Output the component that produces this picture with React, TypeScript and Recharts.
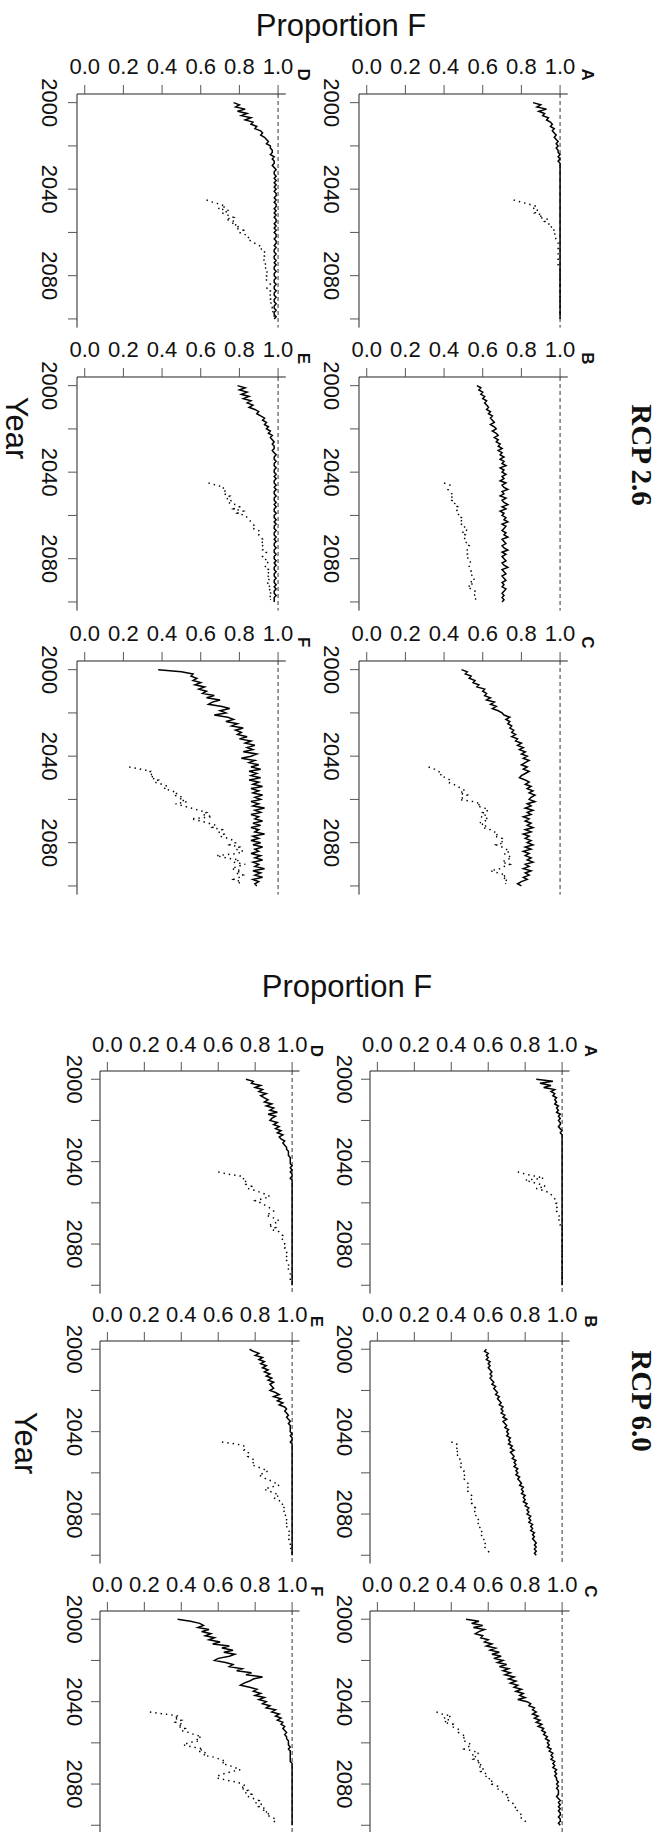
import React from "react";
import { LineChart, Line, XAxis, YAxis, ReferenceLine } from "recharts";

// ---- data: proportion F by year (solid = main run, dotted = late-start run) ----
const YEARS = Array.from({ length: 101 }, (_, i) => 2000 + i);
const ALT_START = 2045;
const PROP_TICKS = [0, 0.2, 0.4, 0.6, 0.8, 1.0];
const YEAR_TICKS = [2000, 2020, 2040, 2060, 2080, 2100];

// RCP 2.6
const rcp26A = [
  0.86, 0.9, 0.88, 0.93, 0.89, 0.92, 0.91, 0.94, 0.93, 0.95,
  0.96, 0.95, 0.97, 0.96, 0.97, 0.98, 0.97, 0.98, 0.99, 0.98,
  0.99, 0.98, 0.99, 0.99, 1, 0.99, 1, 0.99, 1, 1,
  1, 1, 1, 1, 1, 1, 1, 1, 1, 1,
  1, 1, 1, 1, 1, 1, 1, 1, 1, 1,
  1, 1, 1, 1, 1, 1, 1, 1, 1, 1,
  1, 1, 1, 1, 1, 1, 1, 1, 1, 1,
  1, 1, 1, 1, 1, 1, 1, 1, 1, 1,
  1, 1, 1, 1, 1, 1, 1, 1, 1, 1,
  1, 1, 1, 1, 1, 1, 1, 1, 1, 1,
  1,
];
const rcp26Aalt = [
  0.76, 0.8, 0.84, 0.88, 0.86,
  0.89, 0.87, 0.91, 0.89, 0.94, 0.92, 0.94, 0.96, 0.95, 0.97,
  0.98, 0.97, 0.97, 0.98, 0.99, 0.99, 0.99, 0.99, 0.99, 0.99,
  0.99, 0.99, 0.99, 0.99, 0.99, 0.99, 1, 1, 1, 1,
  1, 1, 1, 1, 1, 1, 1, 1, 1, 1,
  1, 1, 1, 1, 1, 1, 1, 1, 1, 1,
];
const rcp26B = [
  0.57, 0.59, 0.58, 0.6, 0.59, 0.61, 0.6, 0.62, 0.61, 0.62,
  0.63, 0.62, 0.64, 0.63, 0.65, 0.64, 0.65, 0.66, 0.64, 0.66,
  0.67, 0.65, 0.67, 0.68, 0.66, 0.68, 0.67, 0.69, 0.68, 0.7,
  0.68, 0.7, 0.69, 0.71, 0.69, 0.71, 0.7, 0.72, 0.69, 0.71,
  0.7, 0.72, 0.7, 0.71, 0.69, 0.72, 0.7, 0.71, 0.73, 0.7,
  0.71, 0.69, 0.72, 0.7, 0.71, 0.73, 0.7, 0.72, 0.69, 0.71,
  0.7, 0.72, 0.71, 0.73, 0.7, 0.72, 0.71, 0.7, 0.72, 0.71,
  0.73, 0.7, 0.71, 0.72, 0.7, 0.71, 0.73, 0.7, 0.72, 0.7,
  0.71, 0.72, 0.7, 0.71, 0.73, 0.7, 0.71, 0.72, 0.7, 0.71,
  0.72, 0.7, 0.71, 0.7, 0.72, 0.71, 0.7, 0.71, 0.7, 0.71,
  0.7,
];
const rcp26Balt = [
  0.4, 0.43, 0.42, 0.42, 0.43,
  0.44, 0.43, 0.45, 0.44, 0.46, 0.45, 0.47, 0.46, 0.47, 0.48,
  0.47, 0.49, 0.48, 0.5, 0.49, 0.51, 0.5, 0.52, 0.49, 0.51,
  0.5, 0.51, 0.52, 0.51, 0.53, 0.52, 0.52, 0.53, 0.52, 0.53,
  0.52, 0.53, 0.54, 0.53, 0.53, 0.54, 0.54, 0.55, 0.54, 0.55,
  0.56, 0.53, 0.55, 0.52, 0.54, 0.56, 0.55, 0.56, 0.57, 0.56,
];
const rcp26C = [
  0.49, 0.52, 0.51, 0.54, 0.53, 0.56, 0.55, 0.58, 0.57, 0.61,
  0.6, 0.62, 0.61, 0.64, 0.62, 0.66, 0.64, 0.67, 0.65, 0.68,
  0.7, 0.71, 0.74, 0.72, 0.74, 0.73, 0.75, 0.74, 0.76, 0.75,
  0.77, 0.75, 0.78, 0.77, 0.8, 0.78, 0.81, 0.79, 0.82, 0.8,
  0.83, 0.81, 0.84, 0.82, 0.8, 0.83, 0.81, 0.84, 0.82, 0.8,
  0.79, 0.82, 0.84, 0.82, 0.85, 0.83, 0.86, 0.84, 0.87, 0.85,
  0.84, 0.87, 0.83, 0.85, 0.82, 0.86, 0.83, 0.85, 0.81, 0.84,
  0.82, 0.85, 0.83, 0.86, 0.82, 0.85, 0.81, 0.84, 0.82, 0.85,
  0.83, 0.86, 0.82, 0.85, 0.81, 0.84, 0.82, 0.85, 0.83, 0.86,
  0.82, 0.84, 0.81, 0.85, 0.82, 0.84, 0.81, 0.83, 0.8, 0.78,
  0.8,
];
const rcp26Calt = [
  0.32, 0.35, 0.37, 0.39, 0.38,
  0.41, 0.43, 0.42, 0.45, 0.47, 0.49, 0.51, 0.48, 0.52, 0.5,
  0.48, 0.55, 0.59, 0.57, 0.61, 0.63, 0.6, 0.62, 0.59, 0.63,
  0.61, 0.58, 0.62, 0.6, 0.64, 0.66, 0.68, 0.66, 0.7, 0.69,
  0.71, 0.67, 0.7, 0.72, 0.74, 0.71, 0.73, 0.75, 0.72, 0.7,
  0.74, 0.71, 0.69, 0.64, 0.68, 0.72, 0.7, 0.73, 0.71, 0.72,
];
const rcp26D = [
  0.77, 0.8, 0.78, 0.83, 0.79, 0.84, 0.81, 0.86, 0.83, 0.87,
  0.86, 0.89, 0.88, 0.91, 0.92, 0.91, 0.93, 0.94, 0.95, 0.94,
  0.96, 0.96, 0.97, 0.97, 0.96, 0.98, 0.97, 0.98, 0.98, 0.97,
  0.98, 0.99, 0.98, 0.98, 0.99, 0.98, 0.99, 0.98, 0.99, 0.98,
  0.99, 0.98, 0.99, 0.99, 0.98, 0.99, 0.98, 0.99, 0.99, 0.98,
  0.99, 0.98, 0.99, 0.98, 0.99, 0.99, 0.98, 0.99, 0.98, 0.99,
  0.98, 0.99, 0.99, 0.98, 0.99, 0.99, 0.98, 0.99, 0.98, 0.98,
  0.99, 0.98, 0.98, 0.99, 0.98, 0.99, 0.98, 0.98, 0.99, 0.98,
  0.98, 0.99, 0.98, 0.98, 0.99, 0.98, 0.98, 0.99, 0.98, 0.98,
  0.99, 0.98, 0.98, 0.99, 0.98, 0.98, 0.99, 0.98, 0.98, 0.99,
  0.98,
];
const rcp26Dalt = [
  0.63, 0.66, 0.7, 0.73, 0.69,
  0.75, 0.71, 0.74, 0.77, 0.73, 0.78, 0.76, 0.8, 0.78, 0.82,
  0.8, 0.83, 0.85, 0.84, 0.86, 0.88, 0.9, 0.92, 0.91, 0.93,
  0.92, 0.93, 0.92, 0.93, 0.94, 0.93, 0.94, 0.93, 0.94, 0.95,
  0.94, 0.95, 0.94, 0.95, 0.96, 0.95, 0.94, 0.96, 0.95, 0.96,
  0.97, 0.96, 0.97, 0.96, 0.97, 0.97, 0.98, 0.97, 0.98, 0.98,
];
const rcp26E = [
  0.79, 0.83, 0.8, 0.84, 0.81, 0.85, 0.82, 0.86, 0.84, 0.87,
  0.85, 0.88, 0.9, 0.89, 0.91, 0.93, 0.92, 0.94, 0.93, 0.95,
  0.94, 0.96, 0.95, 0.97, 0.96, 0.97, 0.98, 0.97, 0.98, 0.98,
  0.97, 0.98, 0.99, 0.98, 0.98, 0.99, 0.98, 0.98, 0.99, 0.98,
  0.98, 0.99, 0.98, 0.99, 0.98, 0.98, 0.99, 0.98, 0.99, 0.98,
  0.98, 0.99, 0.98, 0.98, 0.99, 0.98, 0.99, 0.98, 0.98, 0.99,
  0.98, 0.98, 0.99, 0.98, 0.99, 0.98, 0.98, 0.99, 0.98, 0.98,
  0.99, 0.98, 0.99, 0.98, 0.98, 0.99, 0.98, 0.98, 0.99, 0.98,
  0.98, 0.99, 0.98, 0.99, 0.98, 0.98, 0.99, 0.98, 0.98, 0.99,
  0.98, 0.98, 0.99, 0.98, 0.99, 0.98, 0.98, 0.99, 0.98, 0.98,
  0.98,
];
const rcp26Ealt = [
  0.64, 0.68, 0.72, 0.71, 0.73,
  0.72, 0.75, 0.73, 0.76, 0.74, 0.78, 0.8, 0.77, 0.82, 0.79,
  0.83, 0.84, 0.85, 0.86, 0.87, 0.88, 0.87, 0.9, 0.91, 0.9,
  0.91, 0.92, 0.91, 0.93, 0.92, 0.93, 0.92, 0.94, 0.93, 0.92,
  0.94, 0.93, 0.95, 0.94, 0.93, 0.95, 0.94, 0.96, 0.95, 0.94,
  0.96, 0.95, 0.94, 0.96, 0.95, 0.97, 0.96, 0.95, 0.97, 0.96,
];
const rcp26F = [
  0.38, 0.5, 0.56, 0.55, 0.58, 0.56, 0.6, 0.57, 0.62, 0.59,
  0.63, 0.61, 0.67, 0.63, 0.7, 0.66, 0.64, 0.71, 0.75, 0.7,
  0.73, 0.67, 0.74, 0.77, 0.73, 0.79, 0.76, 0.82, 0.78, 0.81,
  0.79, 0.84, 0.8, 0.86, 0.83, 0.88, 0.84, 0.87, 0.82, 0.89,
  0.86, 0.81, 0.88, 0.85, 0.9, 0.86, 0.91, 0.85, 0.89, 0.86,
  0.91, 0.85, 0.9, 0.87, 0.92, 0.86, 0.9, 0.87, 0.92, 0.88,
  0.91, 0.86, 0.9, 0.87, 0.93, 0.88, 0.91, 0.86, 0.9, 0.88,
  0.92, 0.87, 0.91, 0.86, 0.9, 0.88, 0.93, 0.87, 0.9, 0.86,
  0.91, 0.87, 0.92, 0.88, 0.9, 0.86, 0.91, 0.88, 0.92, 0.87,
  0.9, 0.88, 0.93, 0.87, 0.91, 0.88, 0.92, 0.87, 0.9, 0.88,
  0.89,
];
const rcp26Falt = [
  0.23, 0.29, 0.34, 0.33, 0.36,
  0.34, 0.38, 0.36, 0.4, 0.43, 0.41, 0.45, 0.48, 0.46, 0.51,
  0.49, 0.53, 0.47, 0.51, 0.55, 0.59, 0.63, 0.61, 0.66, 0.55,
  0.6, 0.64, 0.68, 0.66, 0.71, 0.69, 0.72, 0.7, 0.74, 0.77,
  0.78, 0.75, 0.8, 0.78, 0.82, 0.79, 0.68, 0.73, 0.8, 0.77,
  0.83, 0.79, 0.76, 0.81, 0.78, 0.82, 0.8, 0.77, 0.81, 0.79,
];

// RCP 6.0
const rcp60A = [
  0.86, 0.95, 0.88, 0.94, 0.9, 0.96, 0.94, 0.96, 0.95, 0.97,
  0.96, 0.97, 0.96, 0.98, 0.97, 0.98, 0.97, 0.99, 0.98, 0.99,
  0.98, 0.99, 0.99, 0.98, 0.99, 1, 0.99, 1, 1, 1,
  1, 1, 1, 1, 1, 1, 1, 1, 1, 1,
  1, 1, 1, 1, 1, 1, 1, 1, 1, 1,
  1, 1, 1, 1, 1, 1, 1, 1, 1, 1,
  1, 1, 1, 1, 1, 1, 1, 1, 1, 1,
  1, 1, 1, 1, 1, 1, 1, 1, 1, 1,
  1, 1, 1, 1, 1, 1, 1, 1, 1, 1,
  1, 1, 1, 1, 1, 1, 1, 1, 1, 1,
  1,
];
const rcp60Aalt = [
  0.76, 0.8, 0.85, 0.9, 0.8,
  0.84, 0.88, 0.91, 0.86, 0.9, 0.93, 0.94, 0.95, 0.96, 0.96,
  0.97, 0.96, 0.97, 0.98, 0.97, 0.98, 0.98, 0.99, 0.98, 0.99,
  0.99, 0.99, 1, 1, 1, 1, 1, 1, 1, 1,
  1, 1, 1, 1, 1, 1, 1, 1, 1, 1,
  1, 1, 1, 1, 1, 1, 1, 1, 1, 1,
];
const rcp60B = [
  0.59, 0.58, 0.6, 0.59, 0.6, 0.59, 0.61, 0.6, 0.61, 0.6,
  0.61, 0.62, 0.61, 0.62, 0.61, 0.62, 0.63, 0.62, 0.64, 0.63,
  0.64, 0.65, 0.64, 0.66, 0.65, 0.66, 0.67, 0.66, 0.68, 0.67,
  0.68, 0.67, 0.69, 0.68, 0.7, 0.68, 0.69, 0.7, 0.69, 0.71,
  0.7, 0.71, 0.7, 0.72, 0.71, 0.72, 0.71, 0.73, 0.72, 0.74,
  0.72, 0.73, 0.74, 0.73, 0.75, 0.74, 0.75, 0.74, 0.76, 0.75,
  0.76, 0.75, 0.77, 0.76, 0.77, 0.78, 0.77, 0.79, 0.78, 0.79,
  0.78, 0.8, 0.79, 0.8, 0.79, 0.81, 0.8, 0.82, 0.81, 0.82,
  0.81, 0.83, 0.82, 0.83, 0.82, 0.84, 0.83, 0.84, 0.83, 0.85,
  0.84, 0.85, 0.84, 0.85, 0.86, 0.85, 0.86, 0.85, 0.86, 0.85,
  0.86,
];
const rcp60Balt = [
  0.4, 0.43, 0.42, 0.43, 0.42,
  0.44, 0.43, 0.44, 0.45, 0.44, 0.45, 0.46, 0.45, 0.46, 0.47,
  0.46, 0.47, 0.48, 0.47, 0.48, 0.49, 0.48, 0.49, 0.5, 0.49,
  0.5, 0.51, 0.5, 0.51, 0.52, 0.51, 0.52, 0.53, 0.52, 0.53,
  0.54, 0.53, 0.54, 0.55, 0.54, 0.55, 0.56, 0.55, 0.56, 0.57,
  0.56, 0.57, 0.58, 0.57, 0.58, 0.59, 0.58, 0.59, 0.6, 0.61,
];
const rcp60C = [
  0.48, 0.55, 0.51, 0.57, 0.52, 0.58, 0.55, 0.53, 0.57, 0.56,
  0.6, 0.58, 0.62, 0.59, 0.64, 0.61, 0.66, 0.62, 0.67, 0.63,
  0.68, 0.65, 0.7, 0.66, 0.71, 0.68, 0.72, 0.69, 0.74, 0.71,
  0.75, 0.72, 0.76, 0.74, 0.78, 0.75, 0.79, 0.77, 0.8, 0.76,
  0.81, 0.83, 0.82, 0.85, 0.84, 0.86, 0.84, 0.87, 0.85, 0.88,
  0.86, 0.89, 0.87, 0.9, 0.89, 0.91, 0.9, 0.92, 0.91, 0.93,
  0.92, 0.93, 0.92, 0.94, 0.93, 0.95, 0.94, 0.95, 0.94, 0.96,
  0.95, 0.96, 0.95, 0.97, 0.96, 0.97, 0.96, 0.97, 0.97, 0.98,
  0.97, 0.98, 0.97, 0.98, 0.98, 0.98, 0.97, 0.98, 0.99, 0.98,
  0.99, 0.98, 0.99, 0.98, 0.99, 0.99, 0.98, 0.99, 0.99, 0.98,
  0.99,
];
const rcp60Calt = [
  0.32, 0.35, 0.4, 0.36, 0.39,
  0.36, 0.41, 0.4, 0.43, 0.45, 0.44, 0.46, 0.48, 0.46, 0.47,
  0.49, 0.51, 0.49, 0.47, 0.52, 0.55, 0.51, 0.54, 0.52, 0.56,
  0.54, 0.57, 0.55, 0.58, 0.56, 0.59, 0.58, 0.61, 0.6, 0.63,
  0.62, 0.65, 0.64, 0.67, 0.68, 0.7, 0.69, 0.72, 0.71, 0.73,
  0.74, 0.75, 0.74, 0.76, 0.77, 0.78, 0.77, 0.79, 0.8, 0.81,
];
const rcp60D = [
  0.75, 0.79, 0.78, 0.83, 0.8, 0.84, 0.82, 0.86, 0.83, 0.85,
  0.87, 0.85, 0.89, 0.86, 0.9, 0.88, 0.92, 0.87, 0.91, 0.89,
  0.88, 0.92, 0.9, 0.93, 0.91, 0.94, 0.92, 0.95, 0.93, 0.94,
  0.96, 0.95, 0.96, 0.97, 0.97, 0.98, 0.98, 0.98, 0.99, 0.99,
  0.99, 0.99, 1, 0.99, 1, 0.99, 1, 1, 0.99, 1,
  1, 1, 1, 1, 1, 1, 1, 1, 1, 1,
  1, 1, 1, 1, 1, 1, 1, 1, 1, 1,
  1, 1, 1, 1, 1, 1, 1, 1, 1, 1,
  1, 1, 1, 1, 1, 1, 1, 1, 1, 1,
  1, 1, 1, 1, 1, 1, 1, 1, 1, 1,
  1,
];
const rcp60Dalt = [
  0.6, 0.65, 0.72, 0.74, 0.73,
  0.76, 0.75, 0.78, 0.76, 0.8, 0.83, 0.86, 0.88, 0.84, 0.8,
  0.83, 0.85, 0.87, 0.89, 0.9, 0.88, 0.86, 0.89, 0.92, 0.93,
  0.9, 0.87, 0.91, 0.89, 0.93, 0.94, 0.95, 0.94, 0.95, 0.96,
  0.96, 0.97, 0.96, 0.97, 0.97, 0.98, 0.97, 0.98, 0.97, 0.98,
  0.98, 0.99, 0.98, 0.98, 0.99, 0.99, 0.99, 0.99, 0.99, 1,
];
const rcp60E = [
  0.77, 0.79, 0.82, 0.8, 0.84, 0.82, 0.85, 0.83, 0.86, 0.84,
  0.87, 0.85, 0.88, 0.86, 0.89, 0.87, 0.9, 0.88, 0.89, 0.9,
  0.88, 0.91, 0.93, 0.9, 0.94, 0.92, 0.95, 0.93, 0.96, 0.97,
  0.96, 0.97, 0.98, 0.97, 0.98, 0.99, 0.98, 0.99, 0.99, 0.99,
  0.99, 1, 0.99, 1, 1, 0.99, 1, 1, 1, 1,
  1, 1, 1, 1, 1, 1, 1, 1, 1, 1,
  1, 1, 1, 1, 1, 1, 1, 1, 1, 1,
  1, 1, 1, 1, 1, 1, 1, 1, 1, 1,
  1, 1, 1, 1, 1, 1, 1, 1, 1, 1,
  1, 1, 1, 1, 1, 1, 1, 1, 1, 1,
  1,
];
const rcp60Ealt = [
  0.62, 0.7, 0.74, 0.75, 0.74,
  0.76, 0.77, 0.76, 0.78, 0.8, 0.79, 0.78, 0.81, 0.84, 0.87,
  0.85, 0.82, 0.84, 0.86, 0.89, 0.91, 0.93, 0.88, 0.85, 0.88,
  0.91, 0.93, 0.9, 0.92, 0.94, 0.95, 0.94, 0.96, 0.95, 0.96,
  0.97, 0.96, 0.97, 0.97, 0.98, 0.96, 0.97, 0.98, 0.98, 0.99,
  0.98, 0.99, 0.98, 0.99, 0.99, 0.99, 1, 0.99, 1, 1,
];
const rcp60F = [
  0.38, 0.45, 0.5, 0.52, 0.49, 0.55, 0.51, 0.56, 0.53, 0.58,
  0.55, 0.61, 0.57, 0.66, 0.62, 0.68, 0.63, 0.69, 0.66, 0.6,
  0.58, 0.64, 0.68, 0.66, 0.73, 0.7, 0.78, 0.75, 0.84, 0.79,
  0.77, 0.74, 0.72, 0.77, 0.81, 0.79, 0.83, 0.8, 0.85, 0.82,
  0.86, 0.84, 0.88, 0.86, 0.91, 0.89, 0.93, 0.91, 0.94, 0.92,
  0.95, 0.94, 0.96, 0.95, 0.96, 0.97, 0.96, 0.97, 0.97, 0.98,
  0.98, 0.98, 0.99, 0.98, 0.99, 0.99, 0.99, 0.99, 0.99, 0.99,
  1, 1, 1, 1, 1, 1, 1, 1, 1, 1,
  1, 1, 1, 1, 1, 1, 1, 1, 1, 1,
  1, 1, 1, 1, 1, 1, 1, 1, 1, 1,
  1,
];
const rcp60Falt = [
  0.23, 0.31, 0.39, 0.36, 0.4,
  0.37, 0.41, 0.38, 0.42, 0.4, 0.44, 0.47, 0.51, 0.48, 0.5,
  0.44, 0.41, 0.46, 0.52, 0.49, 0.54, 0.52, 0.58, 0.61, 0.64,
  0.62, 0.66, 0.69, 0.72, 0.67, 0.63, 0.6, 0.59, 0.64, 0.7,
  0.73, 0.75, 0.72, 0.76, 0.74, 0.78, 0.76, 0.79, 0.82, 0.8,
  0.84, 0.82, 0.86, 0.84, 0.88, 0.86, 0.89, 0.91, 0.9, 0.92,
];

// ---- layout ----
const SANS = "'Liberation Sans', Arial, Helvetica, sans-serif";
const SERIF = "'Liberation Serif', 'Times New Roman', serif";
const YW = 50; // space left of plot for year axis
const XH = 40; // space above plot for proportion axis
const MR = 40;
const MB = 8;

type Half = {
  rows: number[];
  cols: number[];
  plotW: number;
  plotH: number;
  xLab: number; // baseline distance of prop labels above axis
  yLab: number; // baseline distance of year labels left of axis
  letterX: number[];
  letterDy: number;
};

const TOP: Half = {
  rows: [93.6, 377.4, 661.3],
  cols: [76.6, 359],
  plotW: 208.8,
  plotH: 233.6,
  xLab: 20,
  yLab: 35,
  letterX: [298, 582],
  letterDy: 19,
};
const BOTTOM: Half = {
  rows: [1071, 1341.3, 1611.3],
  cols: [99.9, 370.3],
  plotW: 199.5,
  plotH: 222.5,
  xLab: 19,
  yLab: 33,
  letterX: [311, 585],
  letterDy: 20,
};

function buildRows(main: number[], alt: number[]) {
  return YEARS.map((year, i) => {
    const j = year - ALT_START;
    return { year, main: main[i], alt: j >= 0 && j < alt.length ? alt[j] : null };
  });
}

function Panel({ half, row, col, main, alt }: { half: Half; row: number; col: number; main: number[]; alt: number[] }) {
  const plotX = half.cols[col];
  const plotY = half.rows[row];
  const data = buildRows(main, alt);
  return (
    <div style={{ position: "absolute", left: plotX - YW, top: plotY - XH }}>
      <LineChart
        width={YW + half.plotW + MR}
        height={XH + half.plotH + MB}
        data={data}
        layout="vertical"
        margin={{ top: 0, right: MR, bottom: MB, left: 0 }}
      >
        <XAxis
          type="number"
          orientation="top"
          domain={[-0.04, 1.04]}
          ticks={PROP_TICKS}
          allowDataOverflow
          interval={0}
          height={XH}
          tickSize={9}
          tickMargin={0}
          axisLine={{ stroke: "#222", strokeWidth: 1 }}
          tickLine={{ stroke: "#555" }}
          tick={(p: any) => (
            <text x={p.x} y={XH - half.xLab} textAnchor="middle" fontSize={22} fontFamily={SANS} fill="#111">
              {Number(p.payload.value).toFixed(1)}
            </text>
          )}
        />
        <YAxis
          type="number"
          dataKey="year"
          domain={[1996, 2104]}
          ticks={YEAR_TICKS}
          allowDataOverflow
          interval={0}
          width={YW}
          tickSize={9}
          tickMargin={0}
          axisLine={{ stroke: "#222", strokeWidth: 1 }}
          tickLine={{ stroke: "#555" }}
          tick={(p: any) =>
            (p.payload.value - 2000) % 40 === 0 ? (
              <text
                transform={`translate(${YW - half.yLab},${p.y}) rotate(90)`}
                textAnchor="middle"
                fontSize={22}
                fontFamily={SANS}
                fill="#111"
              >
                {p.payload.value}
              </text>
            ) : (
              <g />
            )
          }
        />
        <ReferenceLine x={1} stroke="#333" strokeWidth={1} strokeDasharray="4 3" />
        <Line
          dataKey="main"
          stroke="#000"
          strokeWidth={1.5}
          dot={false}
          activeDot={false}
          isAnimationActive={false}
        />
        <Line
          dataKey="alt"
          stroke="#000"
          strokeWidth={1.5}
          strokeDasharray="1.4 4"
          dot={false}
          activeDot={false}
          isAnimationActive={false}
        />
      </LineChart>
    </div>
  );
}

const LETTERS = [
  ["D", "E", "F"],
  ["A", "B", "C"],
];

function Labels({ half, title, titleX, titleY, yearX, yearY, rcp, rcpY }: any) {
  return (
    <>
      <text x={titleX} y={titleY} textAnchor="middle" fontSize={31} fontFamily={SANS} fill="#111">
        {title}
      </text>
      <text transform={`translate(${yearX},${yearY}) rotate(90)`} textAnchor="middle" fontSize={31} fontFamily={SANS} fill="#111">
        Year
      </text>
      <text
        transform={`translate(632,${rcpY}) rotate(90)`}
        textAnchor="middle"
        fontSize={29}
        fontWeight="bold"
        fontFamily={SERIF}
        fill="#111"
      >
        {rcp}
      </text>
      {LETTERS.map((colLetters, c) =>
        colLetters.map((l, r) => (
          <text
            key={l}
            transform={`translate(${half.letterX[c]},${half.rows[r] - half.letterDy}) rotate(90)`}
            textAnchor="middle"
            fontSize={17}
            fontWeight="bold"
            fontFamily={SANS}
            fill="#111"
          >
            {l}
          </text>
        ))
      )}
    </>
  );
}

export default function App() {
  return (
    <div style={{ position: "relative", width: 665, height: 1832, overflow: "hidden", background: "#fff" }}>
      <style>{"body{margin:0;}"}</style>
      {/* RCP 2.6 */}
      <Panel half={TOP} row={0} col={1} main={rcp26A} alt={rcp26Aalt} />
      <Panel half={TOP} row={1} col={1} main={rcp26B} alt={rcp26Balt} />
      <Panel half={TOP} row={2} col={1} main={rcp26C} alt={rcp26Calt} />
      <Panel half={TOP} row={0} col={0} main={rcp26D} alt={rcp26Dalt} />
      <Panel half={TOP} row={1} col={0} main={rcp26E} alt={rcp26Ealt} />
      <Panel half={TOP} row={2} col={0} main={rcp26F} alt={rcp26Falt} />
      {/* RCP 6.0 */}
      <Panel half={BOTTOM} row={0} col={1} main={rcp60A} alt={rcp60Aalt} />
      <Panel half={BOTTOM} row={1} col={1} main={rcp60B} alt={rcp60Balt} />
      <Panel half={BOTTOM} row={2} col={1} main={rcp60C} alt={rcp60Calt} />
      <Panel half={BOTTOM} row={0} col={0} main={rcp60D} alt={rcp60Dalt} />
      <Panel half={BOTTOM} row={1} col={0} main={rcp60E} alt={rcp60Ealt} />
      <Panel half={BOTTOM} row={2} col={0} main={rcp60F} alt={rcp60Falt} />
      <svg width={665} height={1832} style={{ position: "absolute", left: 0, top: 0, pointerEvents: "none" }}>
        <Labels half={TOP} title="Proportion F" titleX={341} titleY={36} yearX={6} yearY={428} rcp="RCP 2.6" rcpY={455} />
        <Labels half={BOTTOM} title="Proportion F" titleX={347} titleY={997} yearX={15} yearY={1443} rcp="RCP 6.0" rcpY={1401} />
      </svg>
    </div>
  );
}
